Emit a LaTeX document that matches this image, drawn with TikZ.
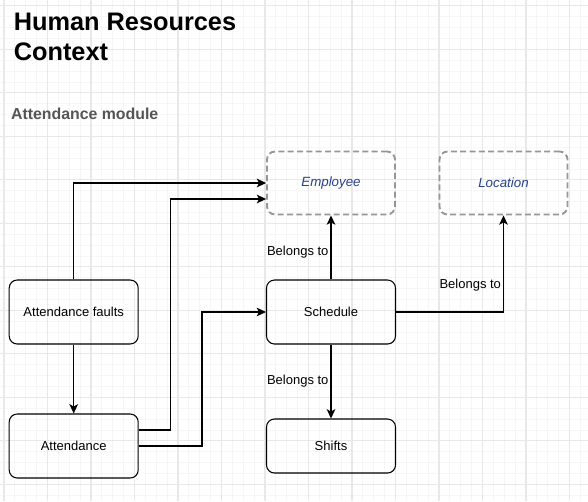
\documentclass[tikz,border=0pt]{standalone}
\usepackage{fontspec}
\setmainfont{Liberation Sans}
\usepackage{xcolor}
\usetikzlibrary{calc,arrows.meta}
\definecolor{gridminor}{RGB}{246,246,246}
\definecolor{gridmajor}{RGB}{232,232,232}
\definecolor{entityblue}{RGB}{38,66,140}
\definecolor{dashgray}{RGB}{150,150,150}
\definecolor{subgray}{RGB}{85,85,85}

\begin{document}
\begin{tikzpicture}
    [%%%%%%%%%%%%%%%%%%%%%%%%%%%%%%
        x=0.75pt, y=-0.75pt,
        box/.style={draw=black, rounded corners=6pt, line width=0.8pt, minimum width=129*0.75pt, minimum height=64*0.75pt, inner sep=0pt, font=\fontsize{9.75pt}{11pt}\selectfont},
        ext/.style={draw=dashgray, dash pattern=on 4.5pt off 2.5pt, rounded corners=6pt, line width=1.4pt, minimum width=128*0.75pt, minimum height=63*0.75pt, inner sep=0pt, text=entityblue, font=\fontsize{10pt}{11pt}\selectfont\itshape},
        conn/.style={draw=black, line width=0.8pt, -{Stealth[length=7pt,width=6.5pt,inset=1.8pt]}},
        lbl/.style={anchor=east, inner sep=1.5pt, font=\fontsize{9.75pt}{11pt}\selectfont},
    ]%%%%%%%%%%%%%%%%%%%%%%%%%%%%%%

\useasboundingbox (0,0) rectangle (588,501);
\fill[white] (0,0) rectangle (588,501);

% grid
\foreach \i in {0,...,53}{
	\draw[gridminor, line width=0.6pt] ({4+\i*10.875},0) -- ({4+\i*10.875},501);
}
\foreach \i in {0,...,45}{
	\draw[gridminor, line width=0.6pt] (0,{5.8+\i*10.875}) -- (588,{5.8+\i*10.875});
}
\foreach \i in {0,4,...,52}{
	\draw[gridmajor, line width=0.8pt] ({4+\i*10.875},0) -- ({4+\i*10.875},501);
}
\foreach \i in {0,4,...,44}{
	\draw[gridmajor, line width=0.8pt] (0,{5.8+\i*10.875}) -- (588,{5.8+\i*10.875});
}

\node[anchor=north west, inner sep=0pt, align=left, font=\fontsize{19pt}{22.5pt}\selectfont\bfseries] (title) at (13.5,12.7) {Human Resources\\Context};
\node[anchor=north west, inner sep=0pt, text=subgray, font=\fontsize{11.9pt}{14pt}\selectfont\bfseries] (module) at (10.8,107.3) {Attendance module};

\node[ext] (employee) at (331,183) {Employee};
\node[ext] (location) at (503.5,183) {Location};
\node[box] (schedule) at (331,312) {Schedule};
\node[box] (faults) at (73.7,312) {Attendance faults};
\node[box] (attendance) at (73.7,446) {Attendance};
\node[box, minimum height=54*0.75pt] (shifts) at (331,446) {Shifts};

\draw[conn] (faults.north) |- (employee.west);
\draw[conn] ($(attendance.east)+(0,-16)$) -| ($(employee.west)+(-96,16)$) -- ($(employee.west)+(0,16)$);
\draw[conn] (attendance.east) -| ($(schedule.west)+(-64,0)$) -- (schedule.west);
\draw[conn] (faults.south) -- (attendance.north);
\draw[conn] (schedule.north) -- node[lbl, pos=0.42] {Belongs to} (employee.south);
\draw[conn] (schedule.east) -| node[lbl, pos=0.64] {Belongs to} (location.south);
\draw[conn] (schedule.south) -- node[lbl, pos=0.5] {Belongs to} (shifts.north);

\end{tikzpicture}
\end{document}
